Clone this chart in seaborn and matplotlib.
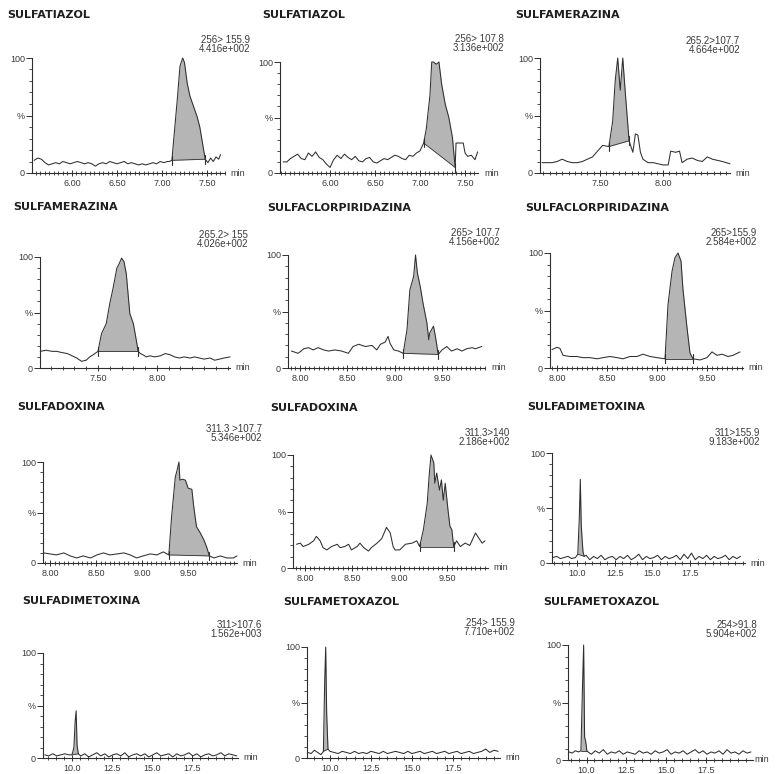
import numpy as np
import pandas as pd
import matplotlib
matplotlib.use("Agg")
import matplotlib.pyplot as plt
import seaborn as sns
from matplotlib.ticker import MultipleLocator

sns.set_style("ticks")
plt.rcParams['font.family'] = ['Liberation Sans', 'DejaVu Sans']

# ---------------- data ----------------
titles = ["SULFATIAZOL", "SULFATIAZOL", "SULFAMERAZINA",
          "SULFAMERAZINA", "SULFACLORPIRIDAZINA", "SULFACLORPIRIDAZINA",
          "SULFADOXINA", "SULFADOXINA", "SULFADIMETOXINA",
          "SULFADIMETOXINA", "SULFAMETOXAZOL", "SULFAMETOXAZOL"]
transitions = ["256> 155.9", "256> 107.8", "265.2>107.7",
               "265.2> 155", "265> 107.7", "265>155.9",
               "311.3 >107.7", "311.3>140", "311>155.9",
               "311>107.6", "254> 155.9", "254>91.8"]
intensities = ["4.416e+002", "3.136e+002", "4.664e+002",
               "4.026e+002", "4.156e+002", "2.584e+002",
               "5.346e+002", "2.186e+002", "9.183e+002",
               "1.562e+003", "7.710e+002", "5.904e+002"]

ticks_sulfatiazol = [6.00, 6.50, 7.00, 7.50]
ticks_sulfamerazina = [7.50, 8.00]
ticks_mid = [8.00, 8.50, 9.00, 9.50]
ticks_long = [10.0, 12.5, 15.0, 17.5]

p1_t = [5.58,5.62,5.66,5.70,5.74,5.78,5.82,5.86,5.90,5.94,5.98,6.02,6.06,6.10,6.14,6.18,6.22,6.26,6.30,6.34,
        6.38,6.42,6.46,6.50,6.54,6.58,6.62,6.66,6.70,6.74,6.78,6.82,6.86,6.90,6.94,6.98,7.02,7.06,
        7.08,7.11,7.13,7.17,7.20,7.23,7.25,7.28,7.31,7.35,7.39,7.42,7.45,7.48,7.51,7.54,7.57,7.60,7.63,7.65]
p1_y = [11,13,12,9,7,8,9,8,10,9,8,9,10,9,8,9,8,6,8,9,8,10,9,8,9,10,8,9,8,7,8,7,8,9,8,10,9,10,
        10,11,29,64,93,100,96,78,67,58,49,40,26,12,9,13,10,14,12,16]

p2_t = [5.48,5.52,5.56,5.60,5.64,5.68,5.72,5.76,5.80,5.84,5.88,5.92,5.96,6.00,6.04,6.08,6.12,6.16,6.20,6.24,
        6.28,6.32,6.36,6.40,6.44,6.48,6.52,6.56,6.60,6.64,6.68,6.72,6.76,6.80,6.84,6.88,6.92,6.96,7.00,
        7.04,7.07,7.11,7.13,7.15,7.18,7.21,7.24,7.28,7.32,7.36,7.39,7.40,7.44,7.48,7.50,7.53,7.57,7.61,7.64]
p2_y = [10,10,13,15,17,13,12,18,15,19,14,12,8,5,12,16,13,17,14,12,15,11,10,13,14,10,9,11,13,12,
        14,16,15,13,12,16,15,18,20,
        27,40,70,100,100,98,100,80,62,50,32,5,27,27,27,18,15,16,12,19]

p3_t = [7.04,7.08,7.12,7.16,7.20,7.24,7.28,7.32,7.36,7.40,7.44,7.48,7.52,7.57,7.60,7.62,7.64,7.66,7.68,7.70,
        7.73,7.76,7.78,7.80,7.82,7.84,7.88,7.92,7.96,8.00,8.04,8.06,8.10,8.13,8.15,8.19,8.23,8.27,8.31,8.35,
        8.39,8.43,8.47,8.50,8.53]
p3_y = [9,9,9,10,12,10,9,9,10,12,14,19,24,23,45,80,100,72,100,70,28,18,34,33,18,12,9,9,8,7,7,19,18,19,9,
        12,13,11,10,14,12,11,10,9,8]

p4_t = [7.01,7.06,7.11,7.15,7.19,7.24,7.28,7.32,7.36,7.40,7.43,7.46,7.50,7.53,7.57,7.60,7.63,7.66,7.68,7.70,
        7.72,7.74,7.77,7.80,7.83,7.84,7.86,7.88,7.91,7.94,7.98,8.03,8.07,8.11,8.15,8.19,8.23,8.28,8.32,8.36,
        8.40,8.45,8.49,8.53,8.57,8.62]
p4_y = [15,16,15,15,14,13,11,9,6,7,10,12,15,31,40,58,73,90,94,99,96,85,49,40,22,15,13,12,10,11,
        10,11,13,12,10,9,10,9,10,9,8,9,7,8,9,10]

p5_t = [7.91,7.98,8.04,8.09,8.14,8.19,8.25,8.30,8.37,8.44,8.51,8.56,8.62,8.69,8.76,8.81,8.85,8.90,8.93,8.95,
        8.99,9.04,9.09,9.13,9.16,9.20,9.22,9.24,9.27,9.30,9.34,9.36,9.37,9.41,9.43,9.46,9.50,9.55,9.60,9.66,
        9.71,9.76,9.82,9.85,9.92]
p5_y = [15,13,17,18,16,18,16,15,16,15,13,19,21,19,20,16,21,23,28,22,16,15,13,34,69,81,100,84,72,57,
        40,25,31,37,28,12,16,19,15,17,15,17,18,17,19]

p6_t = [7.95,8.00,8.03,8.06,8.13,8.20,8.26,8.33,8.40,8.46,8.53,8.60,8.66,8.73,8.80,8.86,8.93,9.00,9.08,9.11,
        9.15,9.18,9.21,9.24,9.26,9.30,9.33,9.36,9.43,9.50,9.55,9.60,9.65,9.71,9.76,9.83]
p6_y = [16,18,17,11,10,10,9,9,8,9,10,9,8,10,10,12,10,9,8,55,84,96,100,93,68,35,13,8,7,9,14,11,12,10,11,14]

p7_t = [7.93,8.00,8.07,8.15,8.22,8.29,8.36,8.44,8.51,8.58,8.65,8.73,8.80,8.87,8.94,9.01,9.09,9.16,9.23,9.29,
        9.32,9.36,9.38,9.40,9.41,9.44,9.47,9.50,9.54,9.56,9.59,9.63,9.67,9.70,9.73,9.78,9.85,9.92,9.99,10.03]
p7_y = [10,9,8,10,7,5,7,5,8,10,8,9,10,8,5,7,9,8,11,8,46,85,92,100,82,83,82,74,73,56,36,30,23,16,7,5,7,5,5,7]

p8_t = [7.91,7.95,7.98,8.04,8.09,8.12,8.16,8.19,8.23,8.28,8.34,8.37,8.42,8.46,8.49,8.55,8.58,8.62,8.67,8.70,
        8.76,8.81,8.86,8.90,8.93,8.95,9.00,9.06,9.13,9.18,9.21,9.25,9.29,9.31,9.33,9.36,9.37,9.39,9.42,9.44,
        9.46,9.48,9.51,9.53,9.55,9.57,9.60,9.64,9.69,9.74,9.80,9.83,9.87,9.90]
p8_y = [21,22,19,21,24,28,24,18,16,19,21,18,19,21,16,19,22,18,15,18,22,26,36,31,19,16,16,21,22,24,
        19,34,57,81,100,93,75,84,69,78,60,75,51,37,34,19,24,19,22,20,31,27,22,24]

p9_t = [8.40,8.65,8.90,9.15,9.40,9.65,9.90,10.05,10.15,10.22,10.28,10.34,10.40,10.48,10.60,
        10.85,11.10,11.35,11.60,11.85,12.10,12.35,12.60,12.85,13.10,13.35,13.60,13.85,14.10,14.35,14.60,
        14.85,15.10,15.35,15.60,15.85,16.10,16.35,16.60,16.85,17.10,17.35,17.60,17.85,18.10,18.35,18.60,
        18.85,19.10,19.35,19.60,19.85,20.10,20.35,20.60,20.85]
p9_y = [5,6,4,5,6,4,5,8,40,76,35,21,10,6,7,
        3,6,4,7,3,5,6,3,6,4,7,3,5,8,3,6,4,5,7,3,6,4,5,7,3,8,4,9,3,6,4,7,3,6,4,5,7,3,6,4,6]

p10_t = [8.30,8.55,8.80,9.05,9.30,9.55,9.80,10.00,10.12,10.20,10.26,10.32,10.40,10.55,
         10.80,11.05,11.30,11.55,11.80,12.05,12.30,12.55,12.80,13.05,13.30,13.55,13.80,14.05,14.30,14.55,
         14.80,15.05,15.30,15.55,15.80,16.05,16.30,16.55,16.80,17.05,17.30,17.55,17.80,18.05,18.30,18.55,
         18.80,19.05,19.30,19.55,19.80,20.05,20.30]
p10_y = [3,2,4,2,3,4,3,3,10,35,45,12,4,2,
         4,1,3,5,2,4,1,3,4,2,5,1,3,4,2,4,1,3,5,2,3,4,1,4,2,3,5,2,4,1,3,4,2,3,5,2,4,3,2]

p11_t = [8.65,8.85,9.05,9.25,9.45,9.60,9.68,9.74,9.80,9.88,10.00,
         10.25,10.50,10.75,11.00,11.25,11.50,11.75,12.00,12.25,12.50,12.75,13.00,13.25,13.50,13.75,14.00,
         14.25,14.50,14.75,15.00,15.25,15.50,15.75,16.00,16.25,16.50,16.75,17.00,17.25,17.50,17.75,18.00,
         18.25,18.50,18.75,19.00,19.25,19.50,19.75,20.00,20.25]
p11_y = [5,4,7,5,3,6,70,100,40,8,6,
         5,4,6,5,4,6,4,5,4,6,5,4,6,4,5,6,5,4,6,4,5,6,4,5,6,4,5,6,4,5,6,4,5,6,4,5,6,8,5,7,6]

p12_t = [8.90,9.10,9.30,9.50,9.65,9.74,9.82,9.88,9.95,10.02,10.10,
         10.30,10.55,10.80,11.05,11.30,11.55,11.80,12.05,12.30,12.55,12.80,13.05,13.30,13.55,13.80,14.05,
         14.30,14.55,14.80,15.05,15.30,15.55,15.80,16.05,16.30,16.55,16.80,17.05,17.30,17.55,17.80,18.05,
         18.30,18.55,18.80,19.05,19.30,19.55,19.80,20.05,20.30]
p12_y = [7,6,8,7,8,60,100,20,16,8,7,
         5,8,6,9,5,7,6,8,5,7,6,5,8,6,7,5,8,6,7,9,5,7,6,8,5,7,9,6,8,5,7,6,8,5,9,6,7,5,8,6,7]

# integrated peak: start time, start level, end time, end level
peak_start_t = [7.11, 7.04, 7.57, 7.50, 9.09, 9.08, 9.29, 9.21, 10.05, 10.00, 9.60, 9.65]
peak_start_y = [11, 27, 23, 15, 13, 8, 8, 19, 8, 3, 6, 8]
peak_end_t = [7.48, 7.39, 7.73, 7.84, 9.46, 9.36, 9.73, 9.57, 10.48, 10.40, 9.88, 10.02]
peak_end_y = [12, 5, 28, 15, 12, 8, 7, 19, 6, 4, 8, 8]

traces_t = [p1_t, p2_t, p3_t, p4_t, p5_t, p6_t, p7_t, p8_t, p9_t, p10_t, p11_t, p12_t]
traces_y = [p1_y, p2_y, p3_y, p4_y, p5_y, p6_y, p7_y, p8_y, p9_y, p10_y, p11_y, p12_y]
xticks = [ticks_sulfatiazol, ticks_sulfatiazol, ticks_sulfamerazina, ticks_sulfamerazina,
          ticks_mid, ticks_mid, ticks_mid, ticks_mid,
          ticks_long, ticks_long, ticks_long, ticks_long]

# ---------------- layout (pixels) ----------------
W, H = 776, 774
axes_px = [(32, 225, 58, 173), (280, 478, 62, 173), (540, 730, 58, 173),
           (40, 230, 257, 368), (288, 485, 255, 368), (550, 743, 253, 368),
           (43, 237, 462, 563), (293, 488, 455, 568), (552, 745, 453, 563),
           (43, 238, 653, 758), (307, 500, 647, 758), (568, 753, 645, 760)]
xlims = [(5.556, 7.70), (5.444, 7.644), (7.024, 8.53), (7.008, 8.62),
         (7.873, 9.954), (7.93, 9.86), (7.924, 10.03), (7.873, 9.932),
         (8.34, 21.15), (8.19, 20.375), (8.60, 20.37), (8.84, 20.43)]
minor_steps = [0.05, 0.05, 0.05, 0.1, 0.05, 0.05, 0.05, 0.05, 0.5, 0.5, 0.5, 0.5]
title_px = [(7, 15), (262, 15), (515, 15), (13, 207), (267, 208), (525, 208),
            (17, 407), (270, 408), (527, 407), (22, 601), (283, 602), (543, 602)]
annot_px = [(250, 40), (504, 39), (740, 41), (248, 235), (500, 233), (757, 233),
            (262, 429), (510, 433), (760, 433), (262, 625), (515, 623), (757, 625)]
min_offset = [1.03] * 11 + [1.01]

LINE = "#2e2e2e"
FILL = "#b5b5b5"
TXT = "#3a3a3a"

fig = plt.figure(figsize=(W / 100, H / 100), dpi=100)
fig.patch.set_facecolor("white")

for i in range(12):
    l, r, t, b = axes_px[i]
    ax = fig.add_axes([l / W, 1 - b / H, (r - l) / W, (b - t) / H])
    tt = np.array(traces_t[i], dtype=float)
    yy = np.array(traces_y[i], dtype=float)
    df = pd.DataFrame({"time": tt, "pct": yy})

    # shaded integrated peak
    x0, x1 = peak_start_t[i], peak_end_t[i]
    m = (tt >= x0 - 1e-9) & (tt <= x1 + 1e-9)
    base = np.interp(tt[m], [x0, x1], [peak_start_y[i], peak_end_y[i]])
    ax.fill_between(tt[m], base, yy[m], color=FILL, lw=0, zorder=1)
    ax.plot([x0, x1], [peak_start_y[i], peak_end_y[i]], color=LINE, lw=0.6, zorder=2)

    sns.lineplot(data=df, x="time", y="pct", ax=ax, color=LINE, lw=0.75,
                 sort=False, estimator=None, zorder=3)

    if i < 8:
        for xm, ym in ((x0, peak_start_y[i]), (x1, peak_end_y[i])):
            ax.plot([xm, xm], [ym - 4, ym + 4], color=LINE, lw=0.8, zorder=4)

    ax.set_xlim(*xlims[i])
    ax.set_ylim(0, 100)
    ax.set_xticks(xticks[i])
    if i >= 8:
        ax.set_xticklabels([f"{v:.1f}" for v in xticks[i]])
    else:
        ax.set_xticklabels([f"{v:.2f}" for v in xticks[i]])
    ax.xaxis.set_minor_locator(MultipleLocator(minor_steps[i]))
    ax.set_yticks([0, 50, 100])
    ax.set_yticklabels(["0", "%", "100"])
    ax.yaxis.set_minor_locator(MultipleLocator(10))
    ax.set_xlabel("")
    ax.set_ylabel("")
    for s in ("top", "right"):
        ax.spines[s].set_visible(False)
    for s in ("left", "bottom"):
        ax.spines[s].set_color(LINE)
        ax.spines[s].set_linewidth(0.8)
    ax.tick_params(axis="x", which="major", direction="inout", length=5, width=0.7,
                   labelsize=6.5, pad=2, colors=LINE, labelcolor=TXT)
    ax.tick_params(axis="x", which="minor", direction="inout", length=3.5, width=0.6, colors=LINE)
    ax.tick_params(axis="y", which="major", direction="out", length=4, width=0.7,
                   labelsize=6.5, pad=1, colors=LINE, labelcolor=TXT)
    ax.tick_params(axis="y", which="minor", direction="out", length=2.5, width=0.6, colors=LINE)
    ax.set_facecolor("none")
    for art in list(ax.lines) + list(ax.collections):
        art.set_clip_on(False)

    ax.text(min_offset[i], 0, "min", transform=ax.transAxes, ha="left", va="center",
            fontsize=6.5, color=TXT)

    tx, ty = title_px[i]
    fig.text(tx / W, 1 - ty / H, titles[i], ha="left", va="center",
             fontsize=8, fontweight="bold", color="#1e1e1e", family="DejaVu Sans")
    axp, ayp = annot_px[i]
    fig.text(axp / W, 1 - ayp / H, transitions[i], ha="right", va="center",
             fontsize=7, color=TXT)
    fig.text(axp / W, 1 - (ayp + 9) / H, intensities[i], ha="right", va="center",
             fontsize=7, color=TXT)

fig.savefig("out.png", dpi=100, facecolor="white")
